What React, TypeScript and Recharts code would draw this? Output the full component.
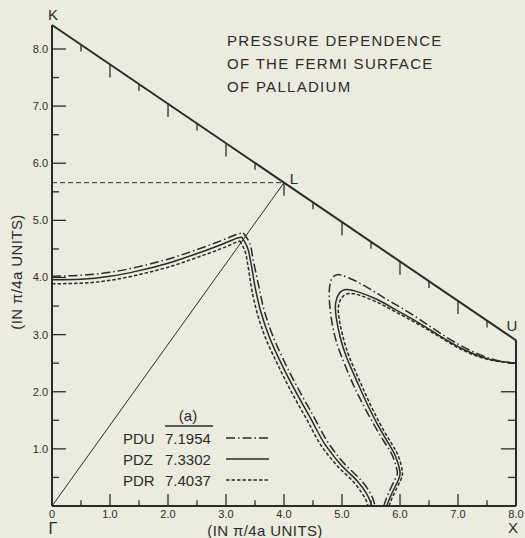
import { LineChart, Line, XAxis, YAxis, ReferenceLine, ReferenceDot } from 'recharts';

// symmetry points (in pi/4a units)
const K_PT = { x: 0, y: 8.42 };
const L_PT = { x: 4, y: 5.66 };
const U_PT = { x: 8, y: 2.9 };
const GAMMA_PT = { x: 0, y: 0 };
const X_PT = { x: 8, y: 0 };

const xTicks = [0, 1, 2, 3, 4, 5, 6, 7, 8];
const yTicks = [1, 2, 3, 4, 5, 6, 7, 8];
const bottomMarks = [0.5, 1, 1.5, 2, 2.5, 3, 3.5, 4, 4.5, 5, 5.5, 6, 6.5, 7, 7.5];
const leftMarks = [0.5, 1, 1.5, 2, 2.5, 3, 3.5, 4, 4.5, 5, 5.5, 6, 6.5, 7, 7.5, 8];
const rightMarks = [0.5, 1, 1.5, 2, 2.5];
const edgeMarks = [0.5, 1, 1.5, 2, 2.5, 3, 3.5, 4, 4.5, 5, 5.5, 6, 6.5, 7, 7.5];

// Fermi surface cross sections
// neck branch: rising part (from the K axis to the corner) and falling part (corner to Gamma-X)
const pduRise = [
  [0, 4.02], [0.5, 4.04], [1.0, 4.09], [1.5, 4.19], [2.0, 4.32], [2.5, 4.49], [2.8, 4.6],
  [3.05, 4.7], [3.2, 4.76], [3.3, 4.78],
];
const pduFall = [
  [3.3, 4.78], [3.4, 4.62], [3.47, 4.3], [3.56, 3.87], [3.66, 3.42],
  [3.81, 2.97], [4.01, 2.52], [4.22, 2.1], [4.51, 1.57], [4.8, 1.05], [5.06, 0.72], [5.32, 0.46],
  [5.48, 0.24], [5.54, 0.11], [5.57, 0],
];
const pdzRise = [
  [0, 3.96], [0.5, 3.97], [1.0, 4.02], [1.5, 4.12], [2.0, 4.25], [2.5, 4.42], [2.8, 4.53],
  [3.05, 4.63], [3.2, 4.69], [3.27, 4.71],
];
const pdzFall = [
  [3.27, 4.71], [3.36, 4.55], [3.43, 4.25], [3.5, 3.84], [3.6, 3.4],
  [3.75, 2.95], [3.95, 2.5], [4.16, 2.08], [4.45, 1.55], [4.74, 1.03], [5.0, 0.7], [5.26, 0.44],
  [5.42, 0.22], [5.48, 0.1], [5.51, 0],
];
const pdrRise = [
  [0, 3.89], [0.5, 3.9], [1.0, 3.95], [1.5, 4.05], [2.0, 4.18], [2.5, 4.35], [2.8, 4.46],
  [3.05, 4.56], [3.18, 4.62], [3.24, 4.64],
];
const pdrFall = [
  [3.24, 4.64], [3.32, 4.48], [3.38, 4.2], [3.44, 3.81], [3.54, 3.37],
  [3.69, 2.92], [3.89, 2.48], [4.1, 2.05], [4.39, 1.52], [4.68, 1.0], [4.94, 0.68], [5.2, 0.42],
  [5.36, 0.2], [5.42, 0.09], [5.45, 0],
];
const pduPocket = [
  [5.72, 0], [5.8, 0.22], [5.93, 0.5], [5.95, 0.62], [5.87, 0.88], [5.73, 1.12], [5.52, 1.48],
  [5.3, 1.9], [5.14, 2.25], [4.98, 2.65], [4.87, 3.0], [4.8, 3.4], [4.78, 3.75], [4.82, 3.97],
  [4.92, 4.05], [5.1, 4.0], [5.4, 3.85], [5.7, 3.66], [6.0, 3.48], [6.35, 3.26], [6.7, 3.02],
  [7.1, 2.78], [7.5, 2.6], [7.8, 2.52], [8.0, 2.5],
];
const pdzPocket = [
  [5.77, 0], [5.85, 0.2], [5.97, 0.45], [6.0, 0.6], [5.93, 0.85], [5.8, 1.1], [5.6, 1.45],
  [5.4, 1.86], [5.25, 2.2], [5.08, 2.6], [4.97, 2.95], [4.9, 3.3], [4.89, 3.55], [4.95, 3.72],
  [5.08, 3.79], [5.3, 3.74], [5.6, 3.62], [5.9, 3.45], [6.3, 3.22], [6.7, 2.97], [7.1, 2.74],
  [7.5, 2.58], [7.8, 2.52], [8.0, 2.5],
];
const pdrPocket = [
  [5.81, 0], [5.89, 0.2], [6.01, 0.45], [6.04, 0.6], [5.98, 0.85], [5.85, 1.1], [5.65, 1.45],
  [5.45, 1.86], [5.3, 2.2], [5.13, 2.6], [5.02, 2.95], [4.95, 3.28], [4.94, 3.5], [5.0, 3.65],
  [5.12, 3.72], [5.3, 3.69], [5.6, 3.57], [5.9, 3.41], [6.3, 3.19], [6.7, 2.95], [7.1, 2.72],
  [7.5, 2.57], [7.8, 2.52], [8.0, 2.5],
];

const DASH_DOT = '9 3 1.5 3';
const DASHED = '3.5 2';

const legendRows = [
  { name: 'PDU', value: '7.1954', dash: DASH_DOT },
  { name: 'PDZ', value: '7.3302', dash: undefined },
  { name: 'PDR', value: '7.4037', dash: DASHED },
];

const INK = '#2b2b2b';
const PAPER = '#ebebdf';
const FONT = '"Liberation Sans", Arial, sans-serif';

const toPts = (arr: number[][]) => arr.map(([x, y]) => ({ x, y }));

// y on the K-U zone edge at a given x
const edgeY = (x: number) => K_PT.y + ((U_PT.y - K_PT.y) * x) / U_PT.x;

const pointLabel = (text: string, dx: number, dy: number, size = 15) =>
  (props: any) => {
    const vb = props.viewBox || {};
    const cx = (vb.x ?? 0) + (vb.width ?? 0) / 2;
    const cy = (vb.y ?? 0) + (vb.height ?? 0) / 2;
    return (
      <text x={cx + dx} y={cy + dy} fill={INK} fontSize={size} fontFamily={FONT} textAnchor="middle" dominantBaseline="central">
        {text}
      </text>
    );
  };

export default function App() {
  const curves = [
    { data: pduRise, dash: DASH_DOT, type: 'monotoneX' },
    { data: pduFall, dash: DASH_DOT, type: 'monotoneY' },
    { data: pdzRise, dash: undefined, type: 'monotoneX' },
    { data: pdzFall, dash: undefined, type: 'monotoneY' },
    { data: pdrRise, dash: DASHED, type: 'monotoneX' },
    { data: pdrFall, dash: DASHED, type: 'monotoneY' },
    { data: pduPocket, dash: DASH_DOT, type: 'natural' },
    { data: pdzPocket, dash: undefined, type: 'natural' },
    { data: pdrPocket, dash: DASHED, type: 'natural' },
  ];

  return (
    <div style={{ position: 'absolute', left: 0, top: 0, width: 525, height: 538, background: PAPER, fontFamily: FONT }}>
      <LineChart width={525} height={538} margin={{ top: 25, right: 9, bottom: 2, left: 22 }}>
        <XAxis
          dataKey="x"
          type="number"
          domain={[0, 8]}
          ticks={xTicks}
          allowDataOverflow
          tickFormatter={(v: number) => (v === 0 ? '0' : v.toFixed(1))}
          tickLine={false}
          tickSize={3}
          tickMargin={1}
          height={30}
          axisLine={{ stroke: INK, strokeWidth: 2 }}
          tick={{ fill: INK, fontSize: 11, fontFamily: FONT }}
        />
        <YAxis
          dataKey="y"
          type="number"
          domain={[0, K_PT.y]}
          ticks={yTicks}
          allowDataOverflow
          tickFormatter={(v: number) => v.toFixed(1)}
          tickLine={false}
          tickSize={2}
          tickMargin={2}
          width={30}
          axisLine={{ stroke: INK, strokeWidth: 2 }}
          tick={{ fill: INK, fontSize: 11, fontFamily: FONT }}
        />

        {/* inward tick marks */}
        {bottomMarks.map((v) => (
          <ReferenceLine key={'b' + v} segment={[{ x: v, y: 0 }, { x: v, y: v % 1 === 0 ? 0.21 : 0.1 }]} stroke={INK} strokeWidth={1.3} ifOverflow="visible" />
        ))}
        {leftMarks.map((v) => (
          <ReferenceLine key={'l' + v} segment={[{ x: 0, y: v }, { x: v % 1 === 0 ? 0.24 : 0.12, y: v }]} stroke={INK} strokeWidth={1.3} ifOverflow="visible" />
        ))}
        {rightMarks.map((v) => (
          <ReferenceLine key={'r' + v} segment={[{ x: 8, y: v }, { x: v % 1 === 0 ? 7.74 : 7.86, y: v }]} stroke={INK} strokeWidth={1.3} ifOverflow="visible" />
        ))}
        {edgeMarks.map((v) => (
          <ReferenceLine key={'e' + v} segment={[{ x: v, y: edgeY(v) }, { x: v, y: edgeY(v) - (v % 1 === 0 ? 0.23 : 0.12) }]} stroke={INK} strokeWidth={1.3} ifOverflow="visible" />
        ))}

        {/* zone boundary and symmetry lines */}
        <ReferenceLine segment={[X_PT, U_PT]} stroke={INK} strokeWidth={2} ifOverflow="visible" />
        <ReferenceLine segment={[K_PT, U_PT]} stroke={INK} strokeWidth={2} ifOverflow="visible" />
        <ReferenceLine segment={[GAMMA_PT, L_PT]} stroke={INK} strokeWidth={1} ifOverflow="visible" />
        <ReferenceLine segment={[{ x: 0, y: L_PT.y }, L_PT]} stroke={INK} strokeWidth={1} strokeDasharray="5 3" ifOverflow="visible" />

        {curves.map((c, i) => (
          <Line
            key={i}
            data={toPts(c.data)}
            dataKey="y"
            type={c.type as any}
            stroke={INK}
            strokeWidth={1.5}
            strokeDasharray={c.dash}
            dot={false}
            activeDot={false}
            isAnimationActive={false}
          />
        ))}

        <ReferenceDot x={K_PT.x} y={K_PT.y} r={1} fill="none" stroke="none" ifOverflow="visible" label={{ content: pointLabel('K', 1, -11) } as any} />
        <ReferenceDot x={L_PT.x} y={L_PT.y} r={1} fill="none" stroke="none" ifOverflow="visible" label={{ content: pointLabel('L', 10, -4) } as any} />
        <ReferenceDot x={U_PT.x} y={U_PT.y} r={1} fill="none" stroke="none" ifOverflow="visible" label={{ content: pointLabel('U', -4, -15) } as any} />
        <ReferenceDot x={GAMMA_PT.x} y={GAMMA_PT.y} r={1} fill="none" stroke="none" ifOverflow="visible" label={{ content: pointLabel('Γ', 1, 22, 16) } as any} />
        <ReferenceDot x={X_PT.x} y={X_PT.y} r={1} fill="none" stroke="none" ifOverflow="visible" label={{ content: pointLabel('X', -3, 21) } as any} />
      </LineChart>

      <svg width={525} height={538} style={{ position: 'absolute', left: 0, top: 0, pointerEvents: 'none' }}>
        <g fill={INK} fontFamily={FONT} fontSize={15} letterSpacing={1.3}>
          <text x={227} y={46}>PRESSURE DEPENDENCE</text>
          <text x={227} y={69}>OF THE FERMI SURFACE</text>
          <text x={227} y={92}>OF PALLADIUM</text>
        </g>
        <text x={265} y={536} fill={INK} fontFamily={FONT} fontSize={15} letterSpacing={0.4} textAnchor="middle">(IN π/4a UNITS)</text>
        <text x={0} y={0} transform="translate(22 272) rotate(-90)" fill={INK} fontFamily={FONT} fontSize={15} letterSpacing={0.4} textAnchor="middle">(IN π/4a UNITS)</text>

        <g fill={INK} fontFamily={FONT} fontSize={15}>
          <text x={188} y={421} textAnchor="middle">(a)</text>
          <line x1={165} x2={213} y1={426} y2={426} stroke={INK} strokeWidth={1.3} />
          {legendRows.map((r, i) => (
            <g key={r.name}>
              <text x={123} y={444 + i * 21}>{r.name}</text>
              <text x={165} y={444 + i * 21}>{r.value}</text>
              <line x1={226} x2={269} y1={438 + i * 21} y2={438 + i * 21} stroke={INK} strokeWidth={1.5} strokeDasharray={r.dash} />
            </g>
          ))}
        </g>
      </svg>
    </div>
  );
}
